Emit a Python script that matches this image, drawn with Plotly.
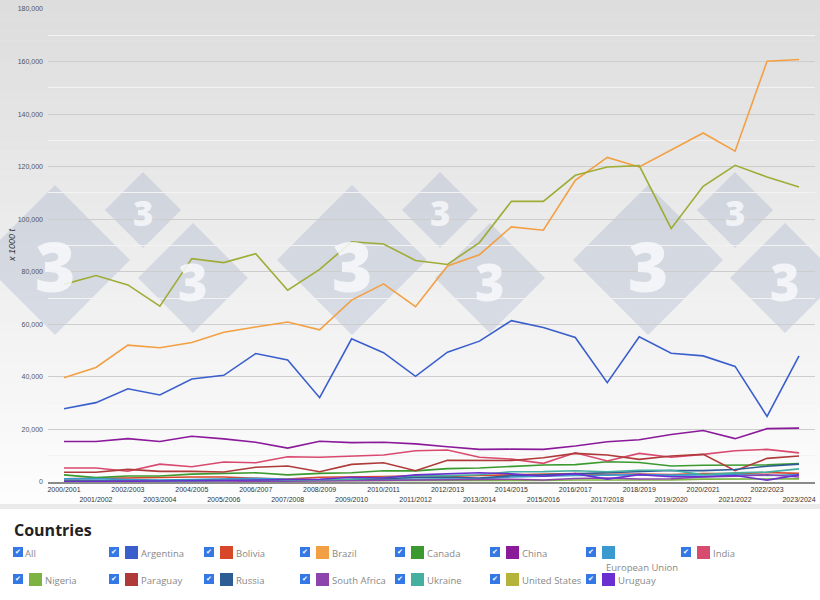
import plotly.graph_objects as go

seasons = ["2000/2001", "2001/2002", "2002/2003", "2003/2004", "2004/2005", "2005/2006",
           "2006/2007", "2007/2008", "2008/2009", "2009/2010", "2010/2011", "2011/2012",
           "2012/2013", "2013/2014", "2014/2015", "2015/2016", "2016/2017", "2017/2018",
           "2018/2019", "2019/2020", "2020/2021", "2021/2022", "2022/2023", "2023/2024"]

argentina = [27900, 30200, 35500, 33100, 39200, 40600, 48900, 46400, 32100, 54500, 49200, 40200,
             49400, 53600, 61400, 58800, 55000, 37800, 55300, 49000, 48000, 44000, 25000, 48000]
bolivia = [1200, 1300, 1500, 1700, 1900, 1900, 1400, 1100, 1800, 1900, 2100, 2400,
           2100, 2500, 2800, 3000, 3200, 2900, 3000, 2800, 3200, 3200, 3600, 3300]
brazil = [39700, 43600, 52100, 51100, 53100, 57000, 59000, 60900, 57900, 69200, 75400, 66700,
          82200, 86500, 97100, 95800, 114800, 123500, 119900, 126200, 132800, 125900, 160100, 160800]
canada = [2700, 1650, 2300, 2300, 3000, 3200, 3500, 2700, 3300, 3500, 4300, 4250,
          5100, 5350, 6000, 6450, 6600, 7700, 7400, 6100, 6350, 6300, 6500, 7000]
china = [15400, 15400, 16500, 15400, 17400, 16400, 15100, 12900, 15500, 15000, 15100, 14500,
         13400, 12400, 12500, 12400, 13700, 15300, 16100, 18100, 19600, 16500, 20300, 20500]
european_union = [1200, 1300, 900, 700, 900, 1200, 1400, 1000, 800, 900, 1100, 1000,
                  1000, 1200, 1900, 2300, 2500, 2600, 2800, 2600, 2600, 2800, 2500, 2800]
india = [5300, 5300, 4100, 6800, 5800, 7600, 7300, 9600, 9400, 9900, 10300, 11900,
         12200, 9400, 8700, 7100, 11100, 8000, 10900, 9400, 10500, 11900, 12400, 11100]
nigeria = [440, 440, 470, 500, 550, 580, 600, 600, 590, 450, 360, 420,
           560, 600, 590, 590, 750, 730, 760, 800, 1100, 1150, 1170, 1200]
paraguay = [3700, 3700, 4800, 4050, 4050, 3800, 5600, 6100, 3900, 6700, 7300, 4300,
            8250, 8250, 8200, 9200, 10900, 10300, 8600, 9900, 10500, 4300, 9000, 9900]
russia = [340, 350, 420, 390, 560, 690, 810, 650, 750, 940, 1220, 1760,
          1810, 1520, 2360, 2710, 3130, 3620, 4030, 4360, 4310, 4760, 6000, 6800]
south_africa = [150, 220, 140, 220, 270, 420, 210, 280, 520, 570, 710, 650,
                780, 950, 1070, 740, 1320, 1540, 1170, 1250, 1900, 2200, 2750, 1900]
ukraine = [70, 70, 120, 230, 360, 610, 890, 720, 810, 1040, 1680, 2260,
           2410, 2770, 3880, 3930, 4280, 3900, 4460, 4490, 2800, 3490, 3770, 5000]
united_states = [75200, 78600, 75000, 66900, 85000, 83500, 86900, 73000, 80900, 91400, 90600, 84300,
                 82800, 91100, 106800, 106800, 116700, 119900, 120400, 96500, 112500, 120500, 116100, 112300]
uruguay = [30, 70, 180, 380, 480, 630, 780, 930, 1030, 1820, 1540, 2700,
           3000, 3500, 3100, 2200, 3200, 1100, 2800, 2000, 2000, 2500, 700, 2700]

series = [
    ("Argentina", argentina, "#3a5fcd"),
    ("Bolivia", bolivia, "#d9472b"),
    ("Brazil", brazil, "#f2a043"),
    ("Canada", canada, "#3a9a2e"),
    ("China", china, "#8b1a9b"),
    ("European Union", european_union, "#3a9ad0"),
    ("India", india, "#d94a6f"),
    ("Nigeria", nigeria, "#7cb342"),
    ("Paraguay", paraguay, "#b03a3a"),
    ("Russia", russia, "#2e5d95"),
    ("South Africa", south_africa, "#8e44ad"),
    ("Ukraine", ukraine, "#45b0a0"),
    ("United States", united_states, "#9fac36"),
    ("Uruguay", uruguay, "#6a2fd0"),
]
legend_colors = {"United States": "#b5b33a"}

W, H = 820, 600
L, R, T, B = 48, 815, 9, 482


def px(x):
    return (x - L) / (R - L)


def py(y):
    return (B - y) / (B - T)


fig = go.Figure()
xs = list(range(len(seasons)))
for name, vals, col in series:
    fig.add_trace(go.Scatter(x=xs, y=vals, mode="lines", name=name,
                             line=dict(color=col, width=1.6), showlegend=False))

shapes = []
annotations = []

# background gradient
n = 50
top_y, bot_y = 0, 504
for i in range(n):
    y0 = top_y + (bot_y - top_y) * i / n
    y1 = top_y + (bot_y - top_y) * (i + 1) / n + 0.5
    t = i / (n - 1)
    g = int(round(221 + (253 - 221) * t))
    shapes.append(dict(type="rect", xref="paper", yref="paper", layer="below",
                       x0=px(0), x1=px(W), y0=py(y1), y1=py(y0),
                       fillcolor=f"rgb({g},{g},{g})", line=dict(width=0)))
shapes.append(dict(type="rect", xref="paper", yref="paper", layer="below",
                   x0=px(0), x1=px(W), y0=py(509), y1=py(504),
                   fillcolor="#eaeaea", line=dict(width=0)))

# watermark diamonds
diamonds = [(55, 260, 75), (143, 210, 38), (193, 278, 55),
            (352, 260, 75), (440, 210, 38), (490, 278, 55),
            (648, 260, 75), (735, 210, 38), (785, 278, 55)]
for cx, cy, h in diamonds:
    path = (f"M {px(cx)},{py(cy - h)} L {px(cx + h)},{py(cy)} "
            f"L {px(cx)},{py(cy + h)} L {px(cx - h)},{py(cy)} Z")
    shapes.append(dict(type="path", xref="paper", yref="paper", layer="below",
                       path=path, fillcolor="rgba(140,160,192,0.27)", line=dict(width=0)))
    annotations.append(dict(x=px(cx), y=py(cy + h * 0.06), xref="paper", yref="paper",
                            text="3", showarrow=False, xanchor="center", yanchor="middle",
                            font=dict(family="Open Sans", size=h * 0.92, color="rgba(246,247,249,0.88)",
                                      weight=800)))

# y-axis title
annotations.append(dict(x=px(12), y=py(245), xref="paper", yref="paper", text="<i>x 1000 t</i>",
                        showarrow=False, textangle=-90, xanchor="center", yanchor="middle",
                        font=dict(family="Liberation Sans", size=9, color="#333")))

# legend block
annotations.append(dict(x=px(12), y=py(530), xref="paper", yref="paper", text="<b>Countries</b>",
                        showarrow=False, xanchor="left", yanchor="middle",
                        font=dict(family="Open Sans", size=16, color="#222")))

cols = [13, 109, 204, 300, 395, 490, 586, 681]
rows = [552, 579]
layout_items = [
    (0, 0, "All"), (0, 1, "Argentina"), (0, 2, "Bolivia"), (0, 3, "Brazil"), (0, 4, "Canada"),
    (0, 5, "China"), (0, 6, "European Union"), (0, 7, "India"),
    (1, 0, "Nigeria"), (1, 1, "Paraguay"), (1, 2, "Russia"), (1, 3, "South Africa"),
    (1, 4, "Ukraine"), (1, 5, "United States"), (1, 6, "Uruguay"),
]
color_map = {name: legend_colors.get(name, col) for name, _, col in series}
for r, c, name in layout_items:
    x0 = cols[c]
    yc = rows[r]
    shapes.append(dict(type="rect", xref="paper", yref="paper",
                       x0=px(x0), x1=px(x0 + 10), y0=py(yc + 5), y1=py(yc - 5),
                       fillcolor="#3478e5", line=dict(width=0)))
    annotations.append(dict(x=px(x0 + 5), y=py(yc), xref="paper", yref="paper", text="✔",
                            showarrow=False, xanchor="center", yanchor="middle",
                            font=dict(family="DejaVu Sans", size=7, color="white")))
    if name == "All":
        annotations.append(dict(x=px(x0 + 10), y=py(yc + 1), xref="paper", yref="paper", text="All",
                                showarrow=False, xanchor="left", yanchor="middle",
                                font=dict(family="Open Sans", size=9.5, color="#888")))
        continue
    shapes.append(dict(type="rect", xref="paper", yref="paper",
                       x0=px(x0 + 16), x1=px(x0 + 29), y0=py(yc + 7), y1=py(yc - 6),
                       fillcolor=color_map[name], line=dict(width=0)))
    if name == "European Union":
        annotations.append(dict(x=px(x0 + 18), y=py(yc + 15), xref="paper", yref="paper", text=name,
                                showarrow=False, xanchor="left", yanchor="middle",
                                font=dict(family="Open Sans", size=9.5, color="#888")))
    else:
        annotations.append(dict(x=px(x0 + 30), y=py(yc + 1), xref="paper", yref="paper", text=name,
                                showarrow=False, xanchor="left", yanchor="middle",
                                font=dict(family="Open Sans", size=9.5, color="#888")))

ticktext = [s if i % 2 == 0 else "<br>" + s for i, s in enumerate(seasons)]

fig.update_layout(
    width=W, height=H, autosize=False,
    margin=dict(l=L, r=W - R, t=T, b=H - B, pad=0),
    paper_bgcolor="white", plot_bgcolor="rgba(0,0,0,0)",
    shapes=shapes, annotations=annotations,
    xaxis=dict(range=[-0.5, len(seasons) - 0.5], tickmode="array", tickvals=xs, ticktext=ticktext,
               tickangle=0, showgrid=False, zeroline=False, showline=True, linecolor="#8a8a8a",
               linewidth=2, ticks="", automargin=False,
               tickfont=dict(family="Liberation Sans", size=7, color="#333")),
    yaxis=dict(range=[0, 180000], tickmode="linear", tick0=0, dtick=20000, tickformat=",d",
               showgrid=True, gridcolor="#cdcdcd", gridwidth=1, zeroline=False, showline=False,
               ticks="", ticklabelstandoff=4, automargin=False,
               tickfont=dict(family="Liberation Sans", size=7, color="#555"),
               minor=dict(tick0=10000, dtick=20000, showgrid=True, gridcolor="#f3f3f3", gridwidth=1)),
    hovermode=False,
)

fig.write_html("out.html", config={"displayModeBar": False},
               post_script="document.body.style.margin='0';document.body.style.overflow='hidden';")
